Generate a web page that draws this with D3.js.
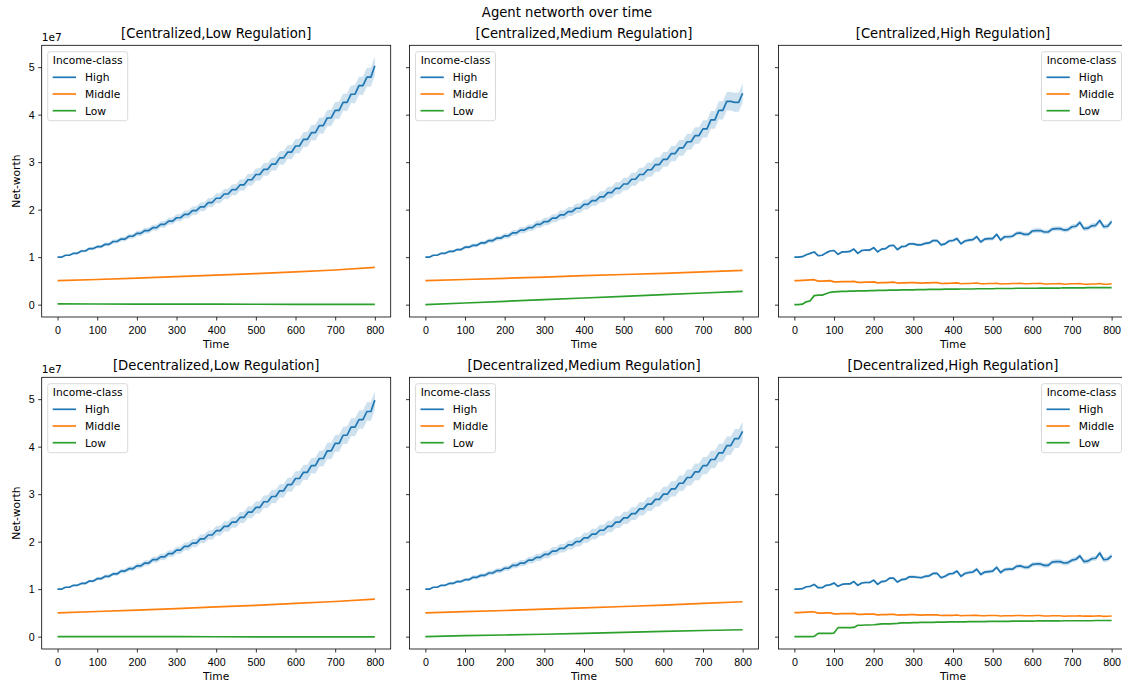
<!DOCTYPE html>
<html>
<head>
<meta charset="utf-8">
<script src="https://cdn.jsdelivr.net/npm/d3@7"></script>
<style>
  body { margin: 0; background: #fff; }
  svg { display: block; font-family: 'DejaVu Sans', sans-serif; }
  .tick text { font-size: 10.7px; fill: #000; }
  .tick line { stroke: #000; stroke-width: 0.8; }
</style>
</head>
<body>
<div id="chart"></div>
<script>
// all values are net-worth in millions
const time10 = d3.range(0, 801, 10);
const time100 = d3.range(0, 801, 100);
const xTicks = [0, 100, 200, 300, 400, 500, 600, 700, 800];
const yTicks = [0, 10, 20, 30, 40, 50]; // drawn as 0..5 with a 1e7 offset
const incomeClasses = ['High', 'Middle', 'Low'];
const classColors = ['#1f77b4', '#ff7f0e', '#2ca02c'];
const panelTitles = [
  '[Centralized,Low Regulation]', '[Centralized,Medium Regulation]', '[Centralized,High Regulation]',
  '[Decentralized,Low Regulation]', '[Decentralized,Medium Regulation]', '[Decentralized,High Regulation]'
];

// High income, sampled every 10 steps
const cLowHigh = [
  10.0,10.0,10.4,10.4,10.8,10.8,11.3,11.3,11.8,11.8,
  12.2,12.2,12.7,12.7,13.3,13.3,13.8,13.8,14.4,14.4,
  15.0,15.0,15.6,15.6,16.2,16.2,16.9,16.9,17.6,17.6,
  18.3,18.3,19.0,19.0,19.8,19.8,20.6,20.6,21.5,21.5,
  22.4,22.4,23.3,23.3,24.2,24.2,25.2,25.2,26.3,26.3,
  27.4,27.4,28.5,28.5,29.6,29.6,30.9,30.9,32.1,32.1,
  33.4,33.4,34.8,34.8,36.2,36.2,37.7,37.7,39.3,39.3,
  40.9,40.9,42.6,42.6,44.3,44.3,46.1,46.1,47.9,47.9,
  50.3];
const cMedHigh = [
  10.0,10.0,10.4,10.4,10.8,10.8,11.2,11.2,11.6,11.6,
  12.1,12.1,12.5,12.5,13.0,13.0,13.5,13.5,14.0,14.0,
  14.5,14.5,15.1,15.1,15.7,15.7,16.2,16.2,16.9,16.9,
  17.5,17.5,18.2,18.2,18.9,18.9,19.6,19.6,20.3,20.3,
  21.1,21.1,21.9,21.9,22.7,22.7,23.6,23.6,24.5,24.5,
  25.4,25.4,26.4,26.4,27.4,27.4,28.4,28.4,29.5,29.5,
  30.6,30.6,31.8,31.8,33.0,33.0,34.3,34.3,35.6,35.6,
  37.0,37.0,38.9,38.9,40.9,40.9,42.8,42.8,42.6,42.6,
  44.5];
const cHighHigh = [
  10.0,10.0,10.1,10.5,10.8,11.1,10.3,10.4,10.9,11.3,
  11.4,10.6,11.1,11.1,11.2,11.7,10.8,11.4,11.5,11.5,
  12.0,11.1,11.7,11.8,12.4,12.5,11.6,12.2,12.3,12.8,
  12.8,12.6,12.6,12.9,13.0,13.5,13.5,12.6,12.8,13.4,
  13.5,13.9,12.8,13.4,13.6,13.7,14.3,13.2,13.8,13.9,
  13.9,14.8,13.6,14.3,14.3,14.4,15.0,15.1,14.8,14.8,
  15.5,15.6,15.6,15.3,15.3,15.9,16.0,16.0,15.7,15.8,
  16.4,16.5,17.3,16.0,16.1,16.6,16.7,17.7,16.4,16.5,
  17.5];
const dLowHigh = [
  10.0,10.0,10.4,10.4,10.8,10.8,11.2,11.2,11.7,11.7,
  12.2,12.2,12.7,12.7,13.2,13.2,13.8,13.8,14.3,14.3,
  14.9,14.9,15.5,15.5,16.2,16.2,16.8,16.8,17.5,17.5,
  18.2,18.2,19.0,19.0,19.7,19.7,20.6,20.6,21.4,21.4,
  22.3,22.3,23.2,23.2,24.1,24.1,25.1,25.1,26.2,26.2,
  27.2,27.2,28.4,28.4,29.5,29.5,30.7,30.7,32.0,32.0,
  33.3,33.3,34.6,34.6,36.0,36.0,37.5,37.5,39.1,39.1,
  40.7,40.7,42.4,42.4,44.1,44.1,45.7,45.7,47.4,47.4,
  49.8];
const dMedHigh = [
  10.0,10.0,10.4,10.4,10.8,10.8,11.2,11.2,11.6,11.6,
  12.0,12.0,12.5,12.5,12.9,12.9,13.4,13.4,13.9,13.9,
  14.4,14.4,15.0,15.0,15.5,15.5,16.1,16.1,16.7,16.7,
  17.3,17.3,18.0,18.0,18.6,18.6,19.3,19.3,20.0,20.0,
  20.8,20.8,21.6,21.6,22.4,22.4,23.2,23.2,24.1,24.1,
  25.0,25.0,25.9,25.9,26.9,26.9,27.9,27.9,28.9,28.9,
  30.0,30.0,31.1,31.1,32.3,32.3,33.5,33.5,34.7,34.7,
  36.0,36.0,37.3,37.3,38.7,38.7,40.2,40.2,41.7,41.7,
  43.2];
const dHighHigh = [
  10.0,10.0,10.1,10.5,10.6,11.0,10.3,10.3,10.8,10.9,
  11.3,10.6,11.0,11.1,11.1,11.6,10.8,11.3,11.4,11.4,
  11.9,11.0,11.6,11.7,12.3,12.3,11.5,12.0,12.1,12.6,
  12.6,12.5,12.4,12.7,12.8,13.3,13.3,12.4,12.7,13.2,
  13.3,13.8,12.7,13.3,13.5,13.6,14.2,13.1,13.6,13.7,
  13.8,14.6,13.5,14.1,14.2,14.2,14.8,14.9,14.6,14.6,
  15.2,15.3,15.3,15.0,15.0,15.7,15.8,15.8,15.5,15.6,
  16.1,16.3,17.0,15.8,15.9,16.4,16.5,17.6,16.2,16.3,
  17.0];

// half width of the confidence band around High
const ciLowReg = [
  0.1,0.1,0.15,0.15,0.2,0.2,0.25,0.25,0.3,0.3,
  0.35,0.35,0.4,0.4,0.4,0.45,0.45,0.5,0.5,0.5,
  0.55,0.55,0.6,0.6,0.6,0.65,0.65,0.7,0.7,0.75,
  0.75,0.8,0.8,0.85,0.85,0.9,0.9,0.95,0.95,1.0,
  1.0,1.05,1.05,1.1,1.1,1.15,1.15,1.2,1.2,1.25,
  1.25,1.3,1.3,1.35,1.35,1.4,1.4,1.45,1.45,1.5,
  1.5,1.55,1.55,1.6,1.6,1.65,1.65,1.7,1.7,1.75,
  1.75,1.8,1.8,1.85,1.85,1.9,1.9,1.95,1.95,2.0,
  2.0];
const ciMedReg = [
  0.1,0.1,0.15,0.15,0.2,0.2,0.25,0.25,0.3,0.3,
  0.35,0.35,0.4,0.4,0.4,0.45,0.45,0.5,0.5,0.5,
  0.55,0.55,0.6,0.6,0.65,0.65,0.7,0.7,0.75,0.75,
  0.8,0.8,0.85,0.85,0.9,0.9,0.95,0.95,1.0,1.0,
  1.05,1.05,1.1,1.1,1.15,1.15,1.2,1.2,1.25,1.25,
  1.3,1.3,1.35,1.35,1.4,1.4,1.45,1.45,1.5,1.5,
  1.55,1.55,1.6,1.6,1.65,1.65,1.7,1.7,1.75,1.75,
  1.8,1.8,1.85,1.85,1.9,1.9,1.95,1.95,2.0,2.0,
  2.05];
const ciHighReg = [
  0.1,0.1,0.12,0.12,0.14,0.15,0.15,0.16,0.17,0.18,
  0.18,0.19,0.2,0.2,0.21,0.22,0.22,0.23,0.24,0.24,
  0.25,0.25,0.26,0.27,0.27,0.28,0.28,0.29,0.3,0.3,
  0.31,0.31,0.32,0.32,0.33,0.33,0.34,0.34,0.35,0.35,
  0.36,0.36,0.37,0.37,0.38,0.38,0.39,0.39,0.4,0.4,
  0.41,0.41,0.42,0.42,0.43,0.43,0.44,0.44,0.45,0.45,
  0.46,0.46,0.47,0.47,0.48,0.48,0.49,0.49,0.5,0.5,
  0.51,0.51,0.52,0.52,0.53,0.53,0.54,0.54,0.55,0.55,
  0.56];

// Middle and Low for low / medium regulation, sampled every 100 steps
const cLowMiddle = [5.05, 5.3, 5.6, 5.9, 6.2, 6.55, 6.9, 7.3, 7.85];
const cLowLow = [0.15, 0.14, 0.12, 0.1, 0.09, 0.08, 0.07, 0.06, 0.05];
const cMedMiddle = [5.05, 5.3, 5.55, 5.8, 6.1, 6.35, 6.6, 6.9, 7.2];
const cMedLow = [0.0, 0.35, 0.7, 1.05, 1.4, 1.75, 2.1, 2.45, 2.8];
const dLowMiddle = [5.0, 5.3, 5.6, 5.9, 6.25, 6.6, 7.0, 7.4, 7.9];
const dLowLow = [0.02, 0.01, 0.0, -0.01, -0.02, -0.03, -0.04, -0.05, -0.05];
const dMedMiddle = [5.0, 5.25, 5.5, 5.8, 6.05, 6.35, 6.65, 7.0, 7.35];
const dMedLow = [0.0, 0.2, 0.35, 0.5, 0.7, 0.9, 1.1, 1.3, 1.45];

// Middle and Low for high regulation, sampled every 10 steps
const cHighMiddle = [
  5.05,5.05,5.1,5.15,5.2,5.25,4.95,4.95,5.0,5.05,
  4.8,4.8,4.85,4.85,4.85,4.9,4.7,4.7,4.75,4.75,
  4.8,4.6,4.65,4.65,4.7,4.75,4.55,4.6,4.6,4.65,
  4.65,4.6,4.55,4.6,4.6,4.65,4.65,4.45,4.5,4.5,
  4.55,4.6,4.4,4.45,4.45,4.5,4.55,4.4,4.4,4.45,
  4.45,4.5,4.35,4.4,4.4,4.45,4.45,4.5,4.4,4.4,
  4.45,4.45,4.5,4.35,4.35,4.4,4.4,4.45,4.3,4.35,
  4.4,4.4,4.45,4.3,4.3,4.35,4.35,4.45,4.3,4.3,
  4.4];
const cHighLow = [
  0.0,0.0,0.1,0.6,0.8,1.9,2.0,2.0,2.3,2.6,
  2.7,2.75,2.8,2.8,2.85,2.85,2.9,2.9,2.9,2.95,
  2.95,3.0,3.0,3.0,3.05,3.05,3.05,3.1,3.1,3.1,
  3.1,3.15,3.15,3.15,3.2,3.2,3.2,3.2,3.25,3.25,
  3.25,3.25,3.3,3.3,3.3,3.3,3.35,3.35,3.35,3.35,
  3.35,3.4,3.4,3.4,3.4,3.4,3.45,3.45,3.45,3.45,
  3.45,3.45,3.5,3.5,3.5,3.5,3.5,3.5,3.55,3.55,
  3.55,3.55,3.55,3.55,3.6,3.6,3.6,3.6,3.6,3.6,
  3.6];
const dHighMiddle = [
  5.05,5.05,5.1,5.15,5.2,5.2,4.95,4.95,5.0,5.0,
  4.8,4.8,4.85,4.85,4.85,4.9,4.7,4.7,4.75,4.75,
  4.75,4.6,4.65,4.65,4.7,4.7,4.55,4.6,4.6,4.65,
  4.65,4.6,4.55,4.6,4.6,4.6,4.6,4.45,4.5,4.5,
  4.5,4.55,4.4,4.45,4.45,4.5,4.5,4.4,4.4,4.45,
  4.45,4.45,4.35,4.4,4.4,4.4,4.45,4.45,4.4,4.4,
  4.4,4.45,4.45,4.35,4.35,4.4,4.4,4.4,4.3,4.35,
  4.35,4.35,4.4,4.3,4.3,4.3,4.35,4.4,4.25,4.3,
  4.35];
const dHighLow = [
  0.0,0.0,0.0,0.0,0.0,0.05,0.7,0.7,0.7,0.7,
  0.75,1.9,1.9,1.9,1.9,1.95,2.4,2.4,2.45,2.45,
  2.5,2.6,2.7,2.7,2.7,2.75,2.8,2.9,2.9,2.9,
  2.95,2.95,3.0,3.0,3.0,3.0,3.05,3.05,3.05,3.1,
  3.1,3.1,3.1,3.1,3.15,3.15,3.15,3.15,3.15,3.2,
  3.2,3.2,3.2,3.2,3.2,3.25,3.25,3.25,3.25,3.25,
  3.25,3.3,3.3,3.3,3.3,3.3,3.3,3.3,3.35,3.35,
  3.35,3.35,3.35,3.35,3.35,3.35,3.4,3.4,3.4,3.4,
  3.4];

const panels = [
  {high: cLowHigh, ci: ciLowReg, middle: cLowMiddle, low: cLowLow, t: time100, right: false},
  {high: cMedHigh, ci: ciMedReg, middle: cMedMiddle, low: cMedLow, t: time100, right: false},
  {high: cHighHigh, ci: ciHighReg, middle: cHighMiddle, low: cHighLow, t: time10, right: true},
  {high: dLowHigh, ci: ciLowReg, middle: dLowMiddle, low: dLowLow, t: time100, right: false},
  {high: dMedHigh, ci: ciMedReg, middle: dMedMiddle, low: dMedLow, t: time100, right: false},
  {high: dHighHigh, ci: ciHighReg, middle: dHighMiddle, low: dHighLow, t: time10, right: true}
];

const width = 1122, height = 682;
const axW = 349, axH = 271.7;
const colX = [41.7, 409.5, 778.5];
const rowY = [45.3, 377.3];

const x = d3.scaleLinear().domain([-40, 840]).range([0, axW]);
const y = d3.scaleLinear().domain([-2.6, 54.6]).range([axH, 0]);

const svg = d3.select('#chart').append('svg')
  .attr('width', width)
  .attr('height', height);

svg.append('text')
  .text('Agent networth over time')
  .attr('x', 567)
  .attr('y', 17)
  .attr('text-anchor', 'middle')
  .attr('font-size', 13.2);

const line = d3.line().x(d => x(d.t)).y(d => y(d.v));
const band = d3.area().x(d => x(d.t)).y0(d => y(d.v - d.ci)).y1(d => y(d.v + d.ci));

panels.forEach((p, i) => {
  const col = i % 3;
  const row = Math.floor(i / 3);
  const g = svg.append('g')
    .attr('transform', `translate(${colX[col]},${rowY[row]})`);

  const series = [
    {values: p.high, times: time10, ci: p.ci},
    {values: p.middle, times: p.t},
    {values: p.low, times: p.t}
  ];

  series.forEach((s, k) => {
    const pts = s.values.map((v, j) => ({t: s.times[j], v: v, ci: s.ci ? s.ci[j] : 0}));
    if (s.ci) {
      g.append('path')
        .datum(pts)
        .attr('d', band)
        .attr('fill', classColors[k])
        .attr('fill-opacity', 0.22);
    }
    g.append('path')
      .datum(pts)
      .attr('d', line)
      .attr('fill', 'none')
      .attr('stroke', classColors[k])
      .attr('stroke-width', 1.7)
      .attr('stroke-linejoin', 'round');
  });

  // axes
  g.append('g')
    .attr('transform', `translate(0,${axH})`)
    .call(d3.axisBottom(x).tickValues(xTicks).tickSize(3.5).tickPadding(6))
    .call(a => a.select('.domain').remove());

  g.append('g')
    .call(d3.axisLeft(y).tickValues(yTicks).tickSize(3.5).tickPadding(3.5)
      .tickFormat(d => col === 0 ? d / 10 : ''))
    .call(a => a.select('.domain').remove());

  g.append('rect')
    .attr('width', axW)
    .attr('height', axH)
    .attr('fill', 'none')
    .attr('stroke', '#000')
    .attr('stroke-width', 0.8);

  g.append('text')
    .text(panelTitles[i])
    .attr('x', axW / 2)
    .attr('y', -7)
    .attr('text-anchor', 'middle')
    .attr('font-size', 13.2);

  g.append('text')
    .text('Time')
    .attr('x', axW / 2)
    .attr('y', axH + 31)
    .attr('text-anchor', 'middle')
    .attr('font-size', 10.7);

  if (col === 0) {
    g.append('text')
      .text('1e7')
      .attr('x', 0)
      .attr('y', -4)
      .attr('font-size', 10.7);
    g.append('text')
      .text('Net-worth')
      .attr('transform', `translate(-21.5,${axH / 2}) rotate(-90)`)
      .attr('text-anchor', 'middle')
      .attr('font-size', 10.7);
  }

  // legend
  const lw = 80, lh = 69;
  const lx = p.right ? axW - 6 - lw : 6;
  const lg = g.append('g').attr('transform', `translate(${lx},6.4)`);
  lg.append('rect')
    .attr('width', lw)
    .attr('height', lh)
    .attr('rx', 2.5)
    .attr('fill', '#fff')
    .attr('fill-opacity', 0.8)
    .attr('stroke', '#d6d6d6')
    .attr('stroke-width', 0.9);
  lg.append('text')
    .text('Income-class')
    .attr('x', lw / 2)
    .attr('y', 12.8)
    .attr('text-anchor', 'middle')
    .attr('font-size', 10.7);
  incomeClasses.forEach((c, k) => {
    const yy = 25.6 + k * 16.7;
    lg.append('line')
      .attr('x1', 5).attr('x2', 28.3)
      .attr('y1', yy).attr('y2', yy)
      .attr('stroke', classColors[k])
      .attr('stroke-width', 1.7);
    lg.append('text')
      .text(c)
      .attr('x', 37.3)
      .attr('y', yy + 3.9)
      .attr('font-size', 10.7);
  });
});
</script>
</body>
</html>
